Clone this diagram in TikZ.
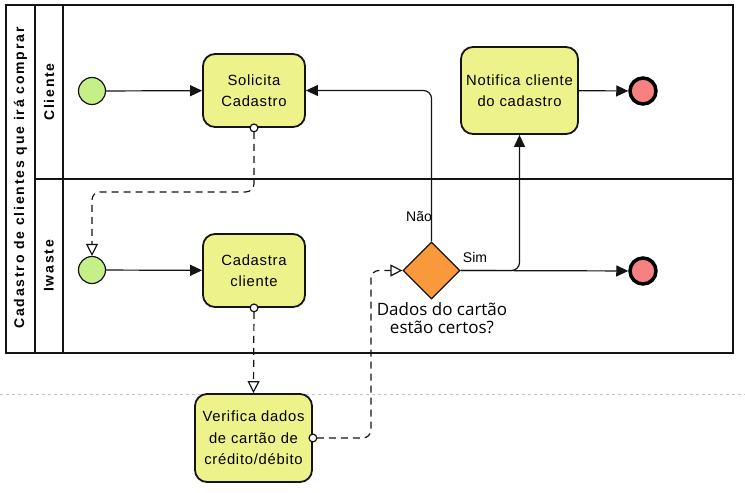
\documentclass[tikz,border=0pt]{standalone}
\usepackage{fontspec}
\setmainfont{Liberation Sans}
\newfontfamily\taskfont{Liberation Sans}[LetterSpace=5]
\newfontfamily\lanefont{Liberation Sans}[LetterSpace=13]
\newfontfamily\gwfont{Open Sans}
\usetikzlibrary{arrows.meta,shapes.geometric}
\definecolor{taskfill}{RGB}{237,242,138}
\definecolor{startfill}{RGB}{196,240,135}
\definecolor{endfill}{RGB}{247,128,128}
\definecolor{gwfill}{RGB}{250,153,60}
\definecolor{linec}{RGB}{20,20,20}
\tikzset{
  task/.style={draw=linec, line width=1.8pt, fill=taskfill, rounded corners=12pt,
    align=center, inner sep=2pt, font=\taskfont\fontsize{14.8}{21.5}\selectfont},
  startev/.style={circle, draw=linec, line width=1.2pt, fill=startfill, minimum size=27pt, inner sep=0pt},
  endev/.style={circle, draw=black, line width=3.5pt, fill=endfill, minimum size=26pt, inner sep=0pt},
  gateway/.style={diamond, draw=linec, line width=1.2pt, fill=gwfill, minimum width=57pt, minimum height=57pt, inner sep=0pt},
  flow/.style={draw=linec, line width=1.2pt, rounded corners=8pt, -{Triangle[length=12pt,width=11pt]}},
  msg/.style={draw=linec, line width=1.2pt, rounded corners=8pt, dash pattern=on 7pt off 5pt,
    shorten <=-4.5pt,
    {Circle[length=9pt,width=9pt,fill=white,line width=1.2pt,sep=0pt]}-{Triangle[length=12pt,width=12pt,fill=white,line width=1.2pt]}},
  pool/.style={draw=linec, line width=1.3pt},
  lanelbl/.style={rotate=90, font=\lanefont\bfseries\fontsize{14}{16}\selectfont},
  flowlbl/.style={font=\fontsize{14}{15}\selectfont, inner sep=0pt},
}
\begin{document}
\begin{tikzpicture}[x=1pt,y=-1pt]
\useasboundingbox (0,0) rectangle (745,493);
\fill[white] (0,0) rectangle (745,493);
% page break line
\draw[gray!45, line width=0.8pt, dash pattern=on 3pt off 3pt] (0,394) -- (745,394);
% pool
\draw[pool] (6,5) rectangle (733,353);
\draw[pool] (35,5) -- (35,353);
\draw[pool] (63,5) -- (63,353);
\draw[pool] (35,179) -- (733,179);
\node[lanelbl] (poollbl) at (20.5,178) {Cadastro de clientes que irá comprar};
\node[lanelbl] (lane1) at (49,92) {Cliente};
\node[lanelbl] (lane2) at (49,266) {Iwaste};
% nodes
\node[startev] (s1) at (92,91) {};
\node[startev] (s2) at (92,270) {};
\node[task, minimum width=102pt, minimum height=73pt] (sol) at (254,90.5) {Solicita\\Cadastro};
\node[task, minimum width=102pt, minimum height=73pt] (cad) at (254,270.5) {Cadastra\\cliente};
\node[task, minimum width=117pt, minimum height=88pt] (ver) at (253.5,438) {Verifica dados\\de cartão de\\crédito/débito};
\node[task, minimum width=117pt, minimum height=87pt] (not) at (519.5,90.5) {Notifica cliente\\do cadastro};
\node[endev] (e1) at (643,91) {};
\node[endev] (e2) at (643,271) {};
\node[gateway] (gw) at (431.5,270.5) {};
\node[font=\gwfont\fontsize{17}{18}\selectfont, align=center, inner sep=0pt] (gwlbl) at (442,318) {Dados do cartão\\estão certos?};
% flows
\draw[flow] (s1) -- (sol);
\draw[flow] (s2) -- (cad);
\draw[flow] (gw.north) |- (sol.east);
\draw[flow] (gw.east) -| (not.south);
\draw[flow] (gw.east) -- (e2);
\draw[flow] (not) -- (e1);
\node[flowlbl] (nao) at (419,217) {Não};
\node[flowlbl] (sim) at (475,257) {Sim};
% message flows
\draw[msg] (sol.south) -- ++(0,64) -| (s2.north);
\draw[msg] (cad.south) -- (ver.north);
\draw[msg] (ver.east) -- ++(58,0) |- (gw.west);
\end{tikzpicture}
\end{document}
